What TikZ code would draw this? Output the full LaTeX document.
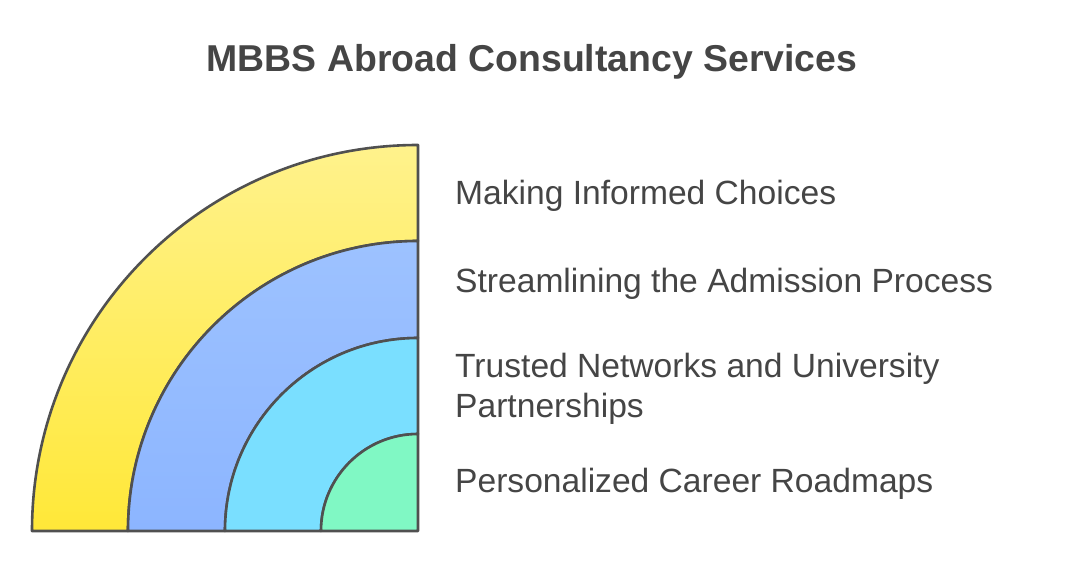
\documentclass[tikz,border=0pt]{standalone}
\usepackage{fontspec}
\setmainfont{Liberation Sans}
\usepackage{xcolor}
\usepackage{tikz}
\definecolor{ringline}{HTML}{505050}
\definecolor{labelgray}{HTML}{454545}
\definecolor{yelTop}{HTML}{FFF28C}
\definecolor{yelBot}{HTML}{FFE838}
\definecolor{bluTop}{HTML}{9DC2FF}
\definecolor{bluBot}{HTML}{8CB5FF}
\definecolor{cyanring}{HTML}{7ADFFF}
\definecolor{greenring}{HTML}{80F8C4}
\tikzset{
  ring/.style = {draw=ringline, line width=2.6pt, line join=round},
  label/.style = {anchor=base west, inner sep=0pt, text=labelgray, align=left,
    font=\fontsize{33.6}{40}\selectfont},
}

\begin{document}
\begin{tikzpicture}[x=1pt,y=1pt]
\useasboundingbox (0,0) rectangle (1080,565);
\node[anchor=base, inner sep=0pt, text=labelgray, font=\fontsize{37.4}{44}\selectfont\bfseries]
  (title) at (532,493) {MBBS Abroad Consultancy Services};
% rings, centre at (418,34)
\draw[ring, top color=yelTop, bottom color=yelBot] (32,34) arc[start angle=180, end angle=90, radius=386]
  -- (418,324) arc[start angle=90, end angle=180, radius=290] -- cycle;
\draw[ring, top color=bluTop, bottom color=bluBot] (128,34) arc[start angle=180, end angle=90, radius=290]
  -- (418,227) arc[start angle=90, end angle=180, radius=193] -- cycle;
\draw[ring, fill=cyanring] (225,34) arc[start angle=180, end angle=90, radius=193]
  -- (418,131) arc[start angle=90, end angle=180, radius=97] -- cycle;
\draw[ring, fill=greenring] (321,34) arc[start angle=180, end angle=90, radius=97] -- (418,34) -- cycle;
% labels
\node[label] (choices) at (455,360) {Making Informed Choices};
\node[label] (admission) at (455,272) {Streamlining the Admission Process};
\node[label] (networks) at (455,147) {Trusted Networks and University\\Partnerships};
\node[label] (roadmaps) at (455,72) {Personalized Career Roadmaps};
\end{tikzpicture}
\end{document}
